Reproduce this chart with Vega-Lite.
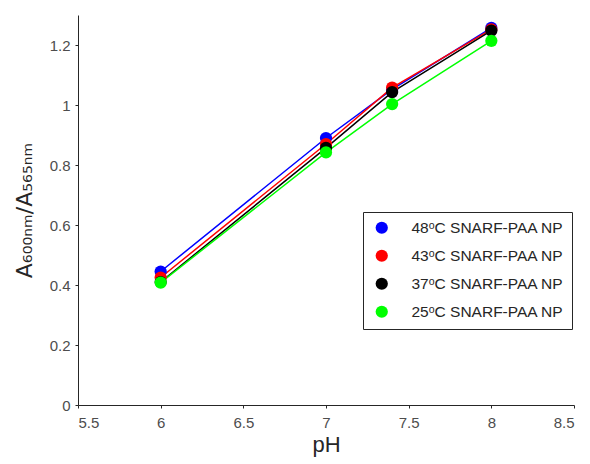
{
  "$schema": "https://vega.github.io/schema/vega-lite/v6.json",
  "autosize": "none",
  "width": 496,
  "height": 390,
  "padding": {"left": 78, "top": 15, "right": 16, "bottom": 59},
  "background": "white",
  "config": {
    "view": {"stroke": null},
    "font": "Liberation Sans",
    "axis": {
      "grid": false,
      "domainColor": "#262626",
      "tickColor": "#262626",
      "labelColor": "#4d4d4d",
      "labelFont": "Liberation Sans",
      "labelFontSize": 15,
      "titleFont": "DejaVu Sans",
      "titleFontSize": 22,
      "titleFontWeight": "normal",
      "titleColor": "#262626",
      "ticks": true,
      "tickSize": 3,
      "domainWidth": 1,
      "tickWidth": 1
    }
  },
  "data": {
    "values": [
      {"pH": 6, "ratio": 0.445, "series": "48ᵒC SNARF-PAA NP"},
      {"pH": 7, "ratio": 0.890, "series": "48ᵒC SNARF-PAA NP"},
      {"pH": 7.4, "ratio": 1.052, "series": "48ᵒC SNARF-PAA NP"},
      {"pH": 8, "ratio": 1.257, "series": "48ᵒC SNARF-PAA NP"},
      {"pH": 6, "ratio": 0.425, "series": "43ᵒC SNARF-PAA NP"},
      {"pH": 7, "ratio": 0.870, "series": "43ᵒC SNARF-PAA NP"},
      {"pH": 7.4, "ratio": 1.058, "series": "43ᵒC SNARF-PAA NP"},
      {"pH": 8, "ratio": 1.252, "series": "43ᵒC SNARF-PAA NP"},
      {"pH": 6, "ratio": 0.410, "series": "37ᵒC SNARF-PAA NP"},
      {"pH": 7, "ratio": 0.857, "series": "37ᵒC SNARF-PAA NP"},
      {"pH": 7.4, "ratio": 1.043, "series": "37ᵒC SNARF-PAA NP"},
      {"pH": 8, "ratio": 1.248, "series": "37ᵒC SNARF-PAA NP"},
      {"pH": 6, "ratio": 0.408, "series": "25ᵒC SNARF-PAA NP"},
      {"pH": 7, "ratio": 0.842, "series": "25ᵒC SNARF-PAA NP"},
      {"pH": 7.4, "ratio": 1.003, "series": "25ᵒC SNARF-PAA NP"},
      {"pH": 8, "ratio": 1.214, "series": "25ᵒC SNARF-PAA NP"}
    ]
  },
  "encoding": {
    "x": {
      "field": "pH", "type": "quantitative",
      "scale": {"domain": [5.5, 8.5], "nice": false, "zero": false},
      "axis": {"values": [5.5, 6, 6.5, 7, 7.5, 8, 8.5], "format": "~g", "title": "pH", "titleFont": "Liberation Sans", "labelPadding": 7, "titlePadding": 4}
    },
    "y": {
      "field": "ratio", "type": "quantitative",
      "scale": {"domain": [0, 1.3], "nice": false},
      "axis": {"values": [0, 0.2, 0.4, 0.6, 0.8, 1, 1.2], "format": "~g", "title": "A₆₀₀ₙₘ/A₅₆₅ₙₘ", "labelPadding": 5, "titlePadding": 13}
    },
    "color": {
      "field": "series", "type": "nominal",
      "scale": {
        "domain": ["48ᵒC SNARF-PAA NP", "43ᵒC SNARF-PAA NP", "37ᵒC SNARF-PAA NP", "25ᵒC SNARF-PAA NP"],
        "range": ["#0000ff", "#ff0000", "#000000", "#00ff00"]
      },
      "legend": {
        "title": null,
        "orient": "none",
        "legendX": 285,
        "legendY": 197,
        "strokeColor": "#262626",
        "fillColor": "white",
        "padding": 8,
        "labelFontSize": 15.5,
        "labelColor": "#262626",
        "labelFont": "Liberation Sans",
        "symbolType": "circle",
        "symbolSize": 150,
        "symbolStrokeWidth": 0,
        "symbolOpacity": 1,
        "rowPadding": 11,
        "labelOffset": 22,
        "symbolOffset": 3
      }
    },
    "order": {"field": "pH", "type": "quantitative"}
  },
  "layer": [
    {"mark": {"type": "line", "strokeWidth": 1.5}},
    {"mark": {"type": "point", "filled": true, "size": 150, "opacity": 1, "shape": "circle"}}
  ]
}
